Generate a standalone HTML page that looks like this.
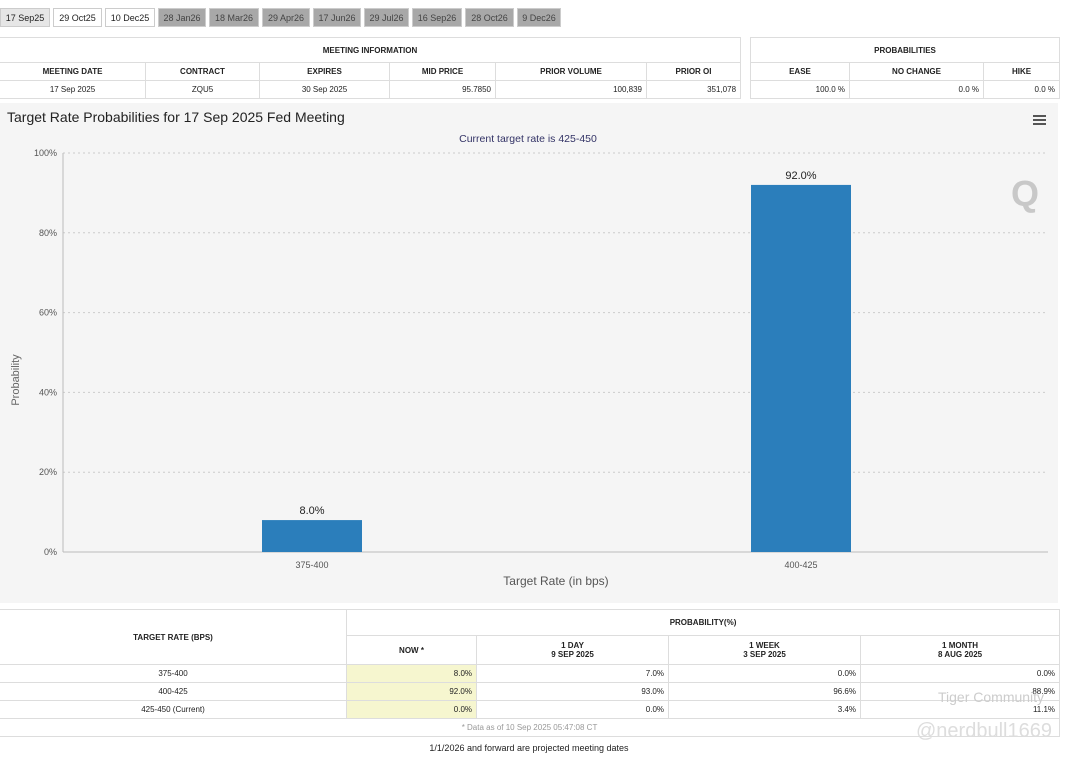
<!DOCTYPE html>
<html><head><meta charset="utf-8"><style>
body{margin:0;width:1068px;height:757px;background:#fff;font-family:"Liberation Sans",sans-serif;position:relative;overflow:hidden;color:#222}
.tab{position:absolute;top:8px;height:19px;font-size:9px;line-height:19px;text-align:center;border:1px solid #ccc;box-sizing:border-box}
.tab.g{background:#a8a8a8;color:#444}
table{position:absolute;border-collapse:collapse;font-size:8px;table-layout:fixed}
td,th{border:1px solid #ddd;padding:0 4px;height:17px}
th{font-weight:bold;text-align:center}
.r{text-align:right}.c{text-align:center}
.y{background:#f6f6cf}
</style></head><body>
<div>
<div class="tab" style="left:0;width:50px;background:#e6e6e6">17 Sep25</div>
<div class="tab" style="left:53px;width:49px">29 Oct25</div>
<div class="tab" style="left:105px;width:50px">10 Dec25</div>
<div class="tab g" style="left:158px;width:48px">28 Jan26</div>
<div class="tab g" style="left:209px;width:50px">18 Mar26</div>
<div class="tab g" style="left:262px;width:48px">29 Apr26</div>
<div class="tab g" style="left:313px;width:48px">17 Jun26</div>
<div class="tab g" style="left:364px;width:45px">29 Jul26</div>
<div class="tab g" style="left:412px;width:50px">16 Sep26</div>
<div class="tab g" style="left:465px;width:49px">28 Oct26</div>
<div class="tab g" style="left:517px;width:44px">9 Dec26</div>
</div>
<table style="left:-1px;top:37px;width:741px">
<colgroup><col style="width:146px"><col style="width:114px"><col style="width:130px"><col style="width:106px"><col style="width:151px"><col style="width:94px"></colgroup>
<tr><th colspan="6" style="height:24px">MEETING INFORMATION</th></tr>
<tr><th>MEETING DATE</th><th>CONTRACT</th><th>EXPIRES</th><th>MID PRICE</th><th>PRIOR VOLUME</th><th>PRIOR OI</th></tr>
<tr><td class="c">17 Sep 2025</td><td class="c">ZQU5</td><td class="c">30 Sep 2025</td><td class="r">95.7850</td><td class="r">100,839</td><td class="r">351,078</td></tr>
</table>
<table style="left:750px;top:37px;width:309px">
<colgroup><col style="width:99px"><col style="width:134px"><col style="width:76px"></colgroup>
<tr><th colspan="3" style="height:24px">PROBABILITIES</th></tr>
<tr><th>EASE</th><th>NO CHANGE</th><th>HIKE</th></tr>
<tr><td class="r">100.0 %</td><td class="r">0.0 %</td><td class="r">0.0 %</td></tr>
</table>
<svg id="chart" style="position:absolute;left:0;top:103px" width="1058" height="500">
<rect width="1058" height="500" fill="#f5f5f5"/>
<text x="7" y="19" font-size="14" fill="#222">Target Rate Probabilities for 17 Sep 2025 Fed Meeting</text>
<text x="528" y="39" font-size="10.5" fill="#333366" text-anchor="middle">Current target rate is 425-450</text>
<g stroke="#555" stroke-width="2"><line x1="1033" y1="13" x2="1046" y2="13"/><line x1="1033" y1="17" x2="1046" y2="17"/><line x1="1033" y1="21" x2="1046" y2="21"/></g>
<text x="1025" y="103" font-size="36" font-weight="bold" fill="#c8c8c8" text-anchor="middle">Q</text>
<text transform="translate(19,277) rotate(-90)" font-size="11" fill="#666" text-anchor="middle">Probability</text>
<text x="556" y="482" font-size="12" fill="#555" text-anchor="middle">Target Rate (in bps)</text>
<g id="grid"></g><g id="bars"></g>
</svg>
<script>
const categories=["375-400","400-425"];
const values=[8.0,92.0];
const yTicks=[0,20,40,60,80,100];
const svg=document.getElementById('chart'),NS="http://www.w3.org/2000/svg";
const axisX=63,x0=67.5,x1=1045.5,gridEnd=1048,yB=449,yT=50;
const y=v=>yB-(v/100)*(yB-yT);
const band=(x1-x0)/categories.length;
const g=document.getElementById('grid'),b=document.getElementById('bars');
function el(t,a,p){const e=document.createElementNS(NS,t);for(const k in a)e.setAttribute(k,a[k]);p.appendChild(e);return e;}
yTicks.forEach(t=>{
 const l=el('line',{x1:axisX,x2:gridEnd,y1:y(t),y2:y(t),stroke:t?'#ccc':'#bbb','stroke-dasharray':t?'2,3':''},g);
 
 
 const tx=el('text',{x:axisX-6,y:y(t)+3,'font-size':9,fill:'#555','text-anchor':'end'},g);tx.textContent=t+'%';
 
 
});
el('line',{x1:axisX,x2:axisX,y1:yT,y2:yB,stroke:'#bbb'},g);
categories.forEach((c,i)=>{
 const cx=x0+band*(i+0.5),w=100;
 const r=el('rect',{x:cx-w/2,y:y(values[i]),width:w,height:yB-y(values[i]),fill:'#2b7ebb'},b);
 
 
 const lb=el('text',{x:cx,y:y(values[i])-6,'font-size':11,fill:'#222','text-anchor':'middle'},b);lb.textContent=values[i].toFixed(1)+'%';
 
 
 const tk=el('text',{x:cx,y:yB+16,'font-size':9,fill:'#555','text-anchor':'middle'},b);tk.textContent=c;
 
 
});
</script>
<table style="left:-1px;top:609px;width:1060px">
<colgroup><col style="width:347px"><col style="width:130px"><col style="width:192px"><col style="width:192px"><col style="width:199px"></colgroup>
<tr><th rowspan="2">TARGET RATE (BPS)</th><th colspan="4" style="height:25px">PROBABILITY(%)</th></tr>
<tr><th style="height:28px">NOW *</th><th>1 DAY<br>9 SEP 2025</th><th>1 WEEK<br>3 SEP 2025</th><th>1 MONTH<br>8 AUG 2025</th></tr>
<tr><td class="c">375-400</td><td class="r y">8.0%</td><td class="r">7.0%</td><td class="r">0.0%</td><td class="r">0.0%</td></tr>
<tr><td class="c">400-425</td><td class="r y">92.0%</td><td class="r">93.0%</td><td class="r">96.6%</td><td class="r">88.9%</td></tr>
<tr><td class="c">425-450 (Current)</td><td class="r y">0.0%</td><td class="r">0.0%</td><td class="r">3.4%</td><td class="r">11.1%</td></tr>
<tr><td colspan="5" class="c" style="color:#999">* Data as of 10 Sep 2025 05:47:08 CT</td></tr>
</table>
<div style="position:absolute;left:0;width:1058px;top:743px;font-size:9px;text-align:center">1/1/2026 and forward are projected meeting dates</div>
<div style="position:absolute;left:938px;top:689px;font-size:14px;color:#ccc">Tiger Community</div>
<div style="position:absolute;left:916px;top:720px;font-size:20px;color:#ddd">@nerdbull1669</div>
</body></html>
